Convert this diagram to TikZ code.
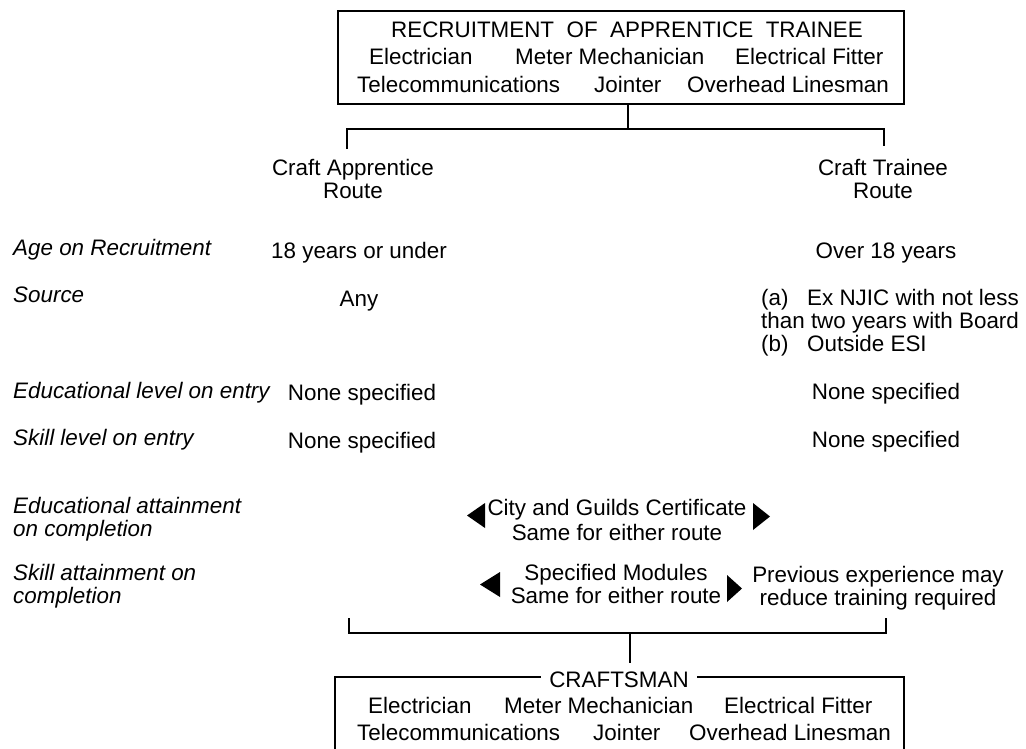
\documentclass[tikz,border=0pt]{standalone}
\usepackage{fontspec}
\setmainfont{Liberation Sans}
\begin{document}
\begin{tikzpicture}[x=1pt,y=-1pt,
  txt/.style={anchor=base,inner sep=0pt,font=\fontsize{22.4}{23}\selectfont},
  txtw/.style={txt,anchor=base west},
  lab/.style={txtw,font=\fontsize{22.4}{23}\selectfont\itshape},
  line/.style={line width=2pt},
  tri/.style={fill=black}]
\useasboundingbox[fill=white] (0,0) rectangle (1026,748);

% ---- top box ----
\node[draw,line width=2pt,minimum width=566pt,minimum height=93pt,anchor=north west,inner sep=0pt] (top) at (337,10) {};
\node[txt] (t0) at (627,37) {RECRUITMENT\ \ OF\ \ APPRENTICE\ \ TRAINEE};
\node[txtw] (t1) at (369,64) {Electrician};
\node[txtw] (t2) at (515,64) {Meter Mechanician};
\node[txtw] (t3) at (735,64) {Electrical Fitter};
\node[txtw] (t4) at (357,92) {Telecommunications};
\node[txtw] (t5) at (594,92) {Jointer};
\node[txtw] (t6) at (687,92) {Overhead Linesman};

% ---- branch ----
\coordinate (j1) at (628,129);
\coordinate (aL) at (347,149);
\coordinate (aR) at (884,146);
\draw[line] (top.south -| j1) -- (j1);
\draw[line] (aL) -- (aL |- j1) -- (aR |- j1) -- (aR);

\node[txt] (app1) at (353,175) {Craft Apprentice};
\node[txt] (app2) at (353,198) {Route};
\node[txt] (trn1) at (883,175) {Craft Trainee};
\node[txt] (trn2) at (883,198) {Route};

% ---- row labels ----
\node[lab] (l1) at (13,255) {Age on Recruitment};
\node[lab] (l2) at (13,302) {Source};
\node[lab] (l3) at (13,398) {Educational level on entry};
\node[lab] (l4) at (13,445) {Skill level on entry};
\node[lab] (l5) at (13,513) {Educational attainment};
\node[lab] (l5b) at (13,536) {on completion};
\node[lab] (l6) at (13,580) {Skill attainment on};
\node[lab] (l6b) at (13,603) {completion};

% ---- apprentice column ----
\node[txt] (a1) at (359,258) {18 years or under};
\node[txt] (a2) at (359,306) {Any};
\node[txt] (a3) at (362,400) {None specified};
\node[txt] (a4) at (362,448) {None specified};

% ---- trainee column ----
\node[txt] (b1) at (886,258) {Over 18 years};
\node[txtw] (b2a) at (761,305) {(a)};
\node[txtw] (b2b) at (807,305) {Ex NJIC with not less};
\node[txtw] (b2c) at (761,328) {than two years with Board};
\node[txtw] (b2d) at (761,351) {(b)};
\node[txtw] (b2e) at (807,351) {Outside ESI};
\node[txt] (b3) at (886,399) {None specified};
\node[txt] (b4) at (886,447) {None specified};

% ---- common attainments ----
\node[txt] (c1) at (617,515) {City and Guilds Certificate};
\node[txt] (c2) at (617,540) {Same for either route};
\fill[tri] (485,503) -- (467,515.5) -- (485,528) -- cycle;
\fill[tri] (753,503) -- (770,516.5) -- (753,530) -- cycle;

\node[txt] (d1) at (616,580) {Specified Modules};
\node[txt] (d2) at (616,603) {Same for either route};
\fill[tri] (500,572) -- (480,584.5) -- (500,597) -- cycle;
\fill[tri] (727,575) -- (742,588.5) -- (727,602) -- cycle;
\node[txt] (e1) at (878,582) {Previous experience may};
\node[txt] (e2) at (878,605) {reduce training required};

% ---- merge bracket ----
\coordinate (lb) at (349,618);
\coordinate (rb) at (886,618);
\coordinate (j2) at (630,633);
\coordinate (j3) at (630,663);
\draw[line] (lb) -- (lb |- j2) -- (rb |- j2) -- (rb);
\draw[line] (j2) -- (j3);

% ---- bottom box ----
\coordinate (bl) at (335,677);
\coordinate (br) at (904,677);
\draw[line] (bl |- 0,752) -- (bl) -- (br) -- (br |- 0,752);
\node[txt,fill=white,inner xsep=8pt,inner ysep=3pt] (craft) at (619,687) {CRAFTSMAN};
\node[txtw] (u1) at (368,713) {Electrician};
\node[txtw] (u2) at (504,713) {Meter Mechanician};
\node[txtw] (u3) at (724,713) {Electrical Fitter};
\node[txtw] (u4) at (357,740) {Telecommunications};
\node[txtw] (u5) at (593,740) {Jointer};
\node[txtw] (u6) at (689,740) {Overhead Linesman};
\end{tikzpicture}
\end{document}
